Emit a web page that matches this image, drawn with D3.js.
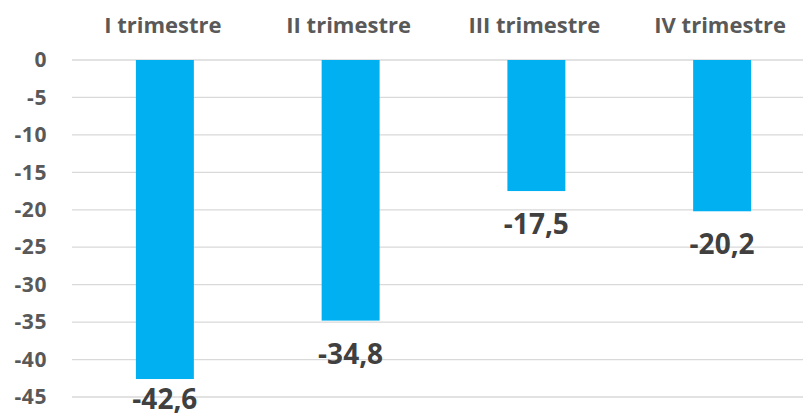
<!DOCTYPE html>
<html>
<head>
<meta charset="utf-8">
<script src="https://cdn.jsdelivr.net/npm/d3@7"></script>
<style>
  html, body { margin: 0; padding: 0; background: #ffffff; }
  svg { display: block; }
</style>
</head>
<body>
<svg id="chart" width="803" height="416"></svg>
<script>
// Quarterly values (all negative), drawn as bars hanging from zero
const categories = ["I trimestre", "II trimestre", "III trimestre", "IV trimestre"];
const values = [-42.6, -34.8, -17.5, -20.2];
const yTicks = [0, -5, -10, -15, -20, -25, -30, -35, -40, -45];
const valueLabels = ["-42,6", "-34,8", "-17,5", "-20,2"];

const W = 803, H = 416;
const svg = d3.select("#chart");
const font = "'Open Sans', 'Liberation Sans', sans-serif";

const plot = { left: 72, right: 815, top: 60, bottom: 397 };

const x = d3.scaleBand()
  .domain(categories)
  .range([plot.left, plot.right])
  .paddingInner(0.688)
  .paddingOuter(0.344);

const y = d3.scaleLinear()
  .domain([0, -45])
  .range([plot.top, plot.bottom]);

// horizontal gridlines
svg.append("g")
  .selectAll("line")
  .data(yTicks)
  .join("line")
  .attr("x1", plot.left)
  .attr("x2", plot.right)
  .attr("y1", d => y(d))
  .attr("y2", d => y(d))
  .attr("stroke", "#d9d9d9")
  .attr("stroke-width", 1.3);

// y axis labels
const yAxis = d3.axisLeft(y).tickValues(yTicks).tickSize(0).tickPadding(0)
  .tickFormat(d => String(d));
const gy = svg.append("g").attr("transform", `translate(47,0)`).call(yAxis);
gy.select(".domain").remove();
gy.selectAll("text")
  .attr("font-family", font)
  .attr("font-weight", 700)
  .attr("font-size", 21)
  .attr("letter-spacing", 0.6)
  .attr("fill", "#595959");

// bars
svg.append("g")
  .selectAll("rect")
  .data(values)
  .join("rect")
  .attr("x", (d, i) => x(categories[i]))
  .attr("width", x.bandwidth())
  .attr("y", d => y(0))
  .attr("height", d => y(d) - y(0))
  .attr("fill", "#00B0F0");

// category labels along the top
const xAxis = d3.axisTop(x).tickSize(0).tickPadding(0);
const gx = svg.append("g").attr("transform", `translate(-2,33)`).call(xAxis);
gx.select(".domain").remove();
gx.selectAll("text")
  .attr("dy", 0)
  .attr("font-family", font)
  .attr("font-weight", 700)
  .attr("font-size", 22)
  .attr("fill", "#595959");

// value labels below each bar end, kept inside the canvas
svg.append("g")
  .selectAll("text")
  .data(values)
  .join("text")
  .attr("x", (d, i) => x(categories[i]) + x.bandwidth() / 2)
  .attr("y", d => Math.min(y(d) + 43, H - 7))
  .attr("text-anchor", "middle")
  .attr("font-family", font)
  .attr("font-weight", 700)
  .attr("font-size", 28)
  .attr("fill", "#404040")
  .text((d, i) => valueLabels[i]);
</script>
</body>
</html>
